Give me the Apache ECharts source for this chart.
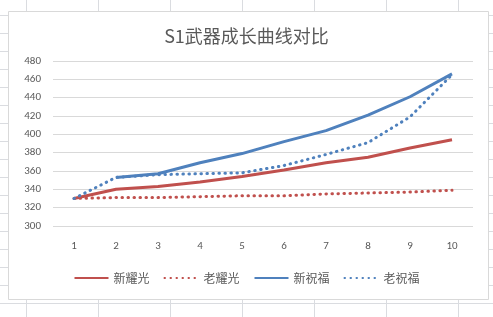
<!DOCTYPE html>
<html>
<head>
<meta charset="utf-8">
<script src="https://cdn.jsdelivr.net/npm/echarts@6/dist/echarts.min.js"></script>
<style>
html,body{margin:0;padding:0;background:#fff;}
#main{width:493px;height:317px;}
</style>
</head>
<body>
<div id="main"></div>
<script>
var levels = ['1','2','3','4','5','6','7','8','9','10'];
var newYaoguang = [330, 340, 343, 348, 354, 361, 369, 375, 385, 394];
var oldYaoguang = [330, 331, 331, 332, 333, 333, 335, 336, 337, 339];
var newZhufu = ['-', 353, 357, 369, 379, 392, 404, 421, 441, 466];
var oldZhufu = [330, 353, 356, 357, 358, 366, 378, 391, 419, 465];

var myChart = echarts.init(document.getElementById('main'));

// spreadsheet grid behind the chart
var sheet = [];
for (var x = 26; x < 493; x += 72) {
	sheet.push({type: 'line', shape: {x1: x + 0.5, y1: 0, x2: x + 0.5, y2: 317}, style: {stroke: '#dadce0', lineWidth: 1}, z: -10});
}
for (var y = 15; y < 317; y += 18) {
	sheet.push({type: 'line', shape: {x1: 0, y1: y + 0.5, x2: 493, y2: y + 0.5}, style: {stroke: '#dadce0', lineWidth: 1}, z: -10});
}
sheet.push({type: 'rect', shape: {x: 8.5, y: 11.5, width: 480, height: 288}, style: {fill: '#fff', stroke: '#d9d9d9', lineWidth: 1}, z: -5});

var red = '#c0504d', blue = '#4f81bd';
var font = 'Calibri, "Liberation Sans", "Noto Sans CJK SC", sans-serif';
var dots = [0.5, 5.5];

var option = {
	animation: false,
	textStyle: {fontFamily: font},
	graphic: sheet,
	title: {
		text: 'S1武器成长曲线对比',
		left: 'center',
		top: 22,
		textStyle: {color: '#595959', fontSize: 18, fontWeight: 'normal', fontFamily: '"Noto Sans CJK SC", sans-serif'}
	},
	legend: {
		bottom: 28,
		left: 'center',
		itemWidth: 34,
		itemHeight: 10,
		itemGap: 14,
		itemStyle: {opacity: 0},
		textStyle: {color: '#595959', fontSize: 12, fontFamily: '"Noto Sans CJK SC", sans-serif'},
		data: ['新耀光', '老耀光', '新祝福', '老祝福']
	},
	grid: {left: 53, right: 20, top: 61, bottom: 91},
	xAxis: {
		type: 'category',
		data: levels,
		boundaryGap: true,
		axisLine: {show: false},
		axisTick: {show: false},
		axisLabel: {color: '#595959', fontSize: 11, margin: 15}
	},
	yAxis: {
		type: 'value',
		min: 300,
		max: 480,
		interval: 20,
		axisLine: {show: false},
		axisTick: {show: false},
		axisLabel: {color: '#595959', fontSize: 11, margin: 12},
		splitLine: {lineStyle: {color: '#d9d9d9', width: 1}}
	},
	series: [
		{name: '新耀光', type: 'line', data: newYaoguang, symbol: 'none', color: red,
			lineStyle: {color: red, width: 3}},
		{name: '老耀光', type: 'line', data: oldYaoguang, symbol: 'none', color: red,
			lineStyle: {color: red, width: 3, type: dots, cap: 'round'}},
		{name: '新祝福', type: 'line', data: newZhufu, symbol: 'none', color: blue,
			lineStyle: {color: blue, width: 3}},
		{name: '老祝福', type: 'line', data: oldZhufu, symbol: 'none', color: blue,
			lineStyle: {color: blue, width: 3, type: dots, cap: 'round'}}
	]
};
myChart.setOption(option);
</script>
</body>
</html>
